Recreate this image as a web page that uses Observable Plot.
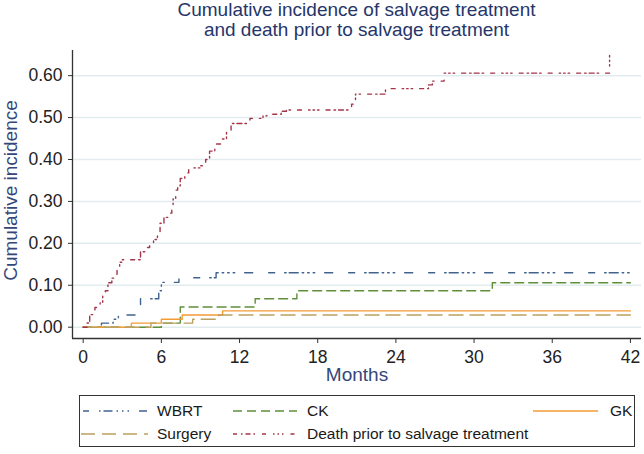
<!DOCTYPE html>
<html><head><meta charset="utf-8">
<script src="https://cdn.jsdelivr.net/npm/d3@7"></script>
<script src="https://cdn.jsdelivr.net/npm/@observablehq/plot@0.6"></script>
<style>
body{margin:0;background:#fff;}
#wrap{position:relative;width:644px;height:454px;overflow:hidden;font-family:"Liberation Sans",Arial,sans-serif;background:#fff;}
#title{position:absolute;left:72px;width:569px;top:0;text-align:center;color:#26366a;font-size:19px;line-height:20px;padding-top:0px;}
#chart{position:absolute;left:0;top:42px;}
#legend{position:absolute;left:0;top:392px;}
</style></head><body>
<div id="wrap">
<div id="title">Cumulative incidence of salvage treatment<br>and death prior to salvage treatment</div>
<div id="chart"></div>
<svg id="legend" width="644" height="62"></svg>
</div>
<script>
// ---- data ----
const xTicks = [0, 6, 12, 18, 24, 30, 36, 42];
const yTicks = [0, 0.1, 0.2, 0.3, 0.4, 0.5, 0.6];
const xDomain = [-0.82, 42.85];
const yDomain = [-0.027, 0.66];

const seriesNames = ["WBRT", "CK", "GK", "Surgery", "Death prior to salvage treatment"];
const seriesColors = ["#41638f", "#5f8f3a", "#f39b35", "#bca05f", "#a3364a"];
const seriesDashes = ["6,10,1.5,3,9,4,1.5,4,1.5,4,1.5,10,8,16", "9,5", null, "14,7", "4,4,1.5,3,5,3,1.5,7,4,7,1.5,3,1.5,3,1.5,7"];

const wbrtMonths = [0, 1.4, 2.3, 2.7, 4.4, 5.8, 6.0, 7.35, 10.2, 42];
const wbrtInc    = [0, 0.0097, 0.019, 0.029, 0.068, 0.087, 0.107, 0.118, 0.13, 0.13];

const ckMonths = [0, 6.0, 7.45, 13.2, 16.4, 31.4, 42];
const ckInc    = [0, 0.0097, 0.048, 0.068, 0.087, 0.106, 0.106];

const gkMonths = [0, 3.7, 6.0, 7.6, 10.7, 42];
const gkInc    = [0, 0.0097, 0.019, 0.029, 0.039, 0.039];

const surgMonths = [0, 5.2, 8.4, 10.4, 42];
const surgInc    = [0, 0.0097, 0.019, 0.029, 0.029];

const deathMonths = [0, 0.3, 0.5, 0.9, 1.3, 1.5, 1.7, 1.9, 2.2, 2.4, 2.6, 2.8, 3.0, 4.4, 4.9, 5.1, 5.4, 5.7, 5.9, 6.2, 6.5, 6.8, 6.9, 7.1, 7.25, 7.45, 7.8, 8.1, 9.0, 9.4, 9.7, 10.1, 10.6, 11.0, 11.35, 12.8, 13.8, 14.1, 15.2, 15.6, 20.6, 20.9, 23.2, 26.5, 26.8, 27.7, 40.4];
const deathInc    = [0, 0.01, 0.03, 0.047, 0.058, 0.078, 0.087, 0.106, 0.117, 0.126, 0.138, 0.155, 0.161, 0.18, 0.19, 0.2, 0.209, 0.222, 0.248, 0.262, 0.272, 0.284, 0.306, 0.327, 0.337, 0.355, 0.368, 0.38, 0.385, 0.4, 0.42, 0.437, 0.449, 0.465, 0.486, 0.498, 0.504, 0.508, 0.515, 0.518, 0.532, 0.556, 0.569, 0.578, 0.587, 0.606, 0.65];

const seriesMonths = [wbrtMonths, ckMonths, gkMonths, surgMonths, deathMonths];
const seriesInc = [wbrtInc, ckInc, gkInc, surgInc, deathInc];

// ---- chart ----
const lineMarks = seriesNames.map((name, i) => {
  const rows = seriesMonths[i].map((t, j) => ({name, t, v: seriesInc[i][j]}));
  const opts = {x: "t", y: "v", curve: "step-after", stroke: seriesColors[i], strokeWidth: 1.4};
  if (seriesDashes[i]) opts.strokeDasharray = seriesDashes[i];
  return Plot.line(rows, opts);
});

const titleColor = "#34477a";
const chart = Plot.plot({
  width: 644, height: 350,
  marginTop: 8, marginBottom: 54, marginLeft: 72, marginRight: 3,
  style: {fontFamily: "'Liberation Sans', Arial, sans-serif", background: "#fff", color: "#222"},
  x: {domain: xDomain, label: null},
  y: {domain: yDomain, label: null},
  marks: [
    Plot.gridY({ticks: yTicks, stroke: "#e2ecef", strokeOpacity: 1, strokeWidth: 1.5}),
    Plot.axisY({ticks: yTicks, tickSize: 4, tickPadding: 6, tickFormat: d3.format(".2f"), fontSize: 17.5, label: null, stroke: "#333"}),
    Plot.axisX({ticks: xTicks, tickSize: 5, tickPadding: 7, fontSize: 17.5, label: null, stroke: "#333"}),
    Plot.ruleX([xDomain[0]], {stroke: "#333", strokeWidth: 1.3}),
    Plot.ruleY([yDomain[0]], {stroke: "#333", strokeWidth: 1.3}),
    ...lineMarks,
    Plot.text(["Cumulative incidence"], {frameAnchor: "left", textAnchor: "middle", rotate: -90, dx: -62, dy: -4, fontSize: 19, fill: titleColor}),
    Plot.text(["Months"], {frameAnchor: "bottom", dy: 29, lineAnchor: "top", fontSize: 19, fill: titleColor})
  ]
});
document.getElementById("chart").appendChild(chart);

// ---- legend ----
const lg = d3.select("#legend");
lg.append("rect").attr("x", 79.5).attr("y", 3.5).attr("width", 555).attr("height", 51)
  .attr("fill", "none").attr("stroke", "#333").attr("stroke-width", 1);
const legendPos = [
  {x1: 83, x2: 148, tx: 157, y: 19},
  {x1: 233, x2: 297, tx: 307, y: 19},
  {x1: 533, x2: 598, tx: 610, y: 19},
  {x1: 81, x2: 148, tx: 157, y: 42},
  {x1: 233, x2: 297, tx: 307, y: 42}
];
seriesNames.forEach((name, i) => {
  const p = legendPos[i];
  const ln = lg.append("line").attr("x1", p.x1).attr("x2", p.x2).attr("y1", p.y).attr("y2", p.y)
    .attr("stroke", seriesColors[i]).attr("stroke-width", 1.5);
  if (seriesDashes[i]) ln.attr("stroke-dasharray", seriesDashes[i]);
  lg.append("text").attr("x", p.tx).attr("y", p.y).attr("dy", "0.35em")
    .attr("font-size", 15.5).attr("fill", "#1a1a1a")
    .attr("font-family", "'Liberation Sans', Arial, sans-serif").text(name);
});
</script>
</body></html>
